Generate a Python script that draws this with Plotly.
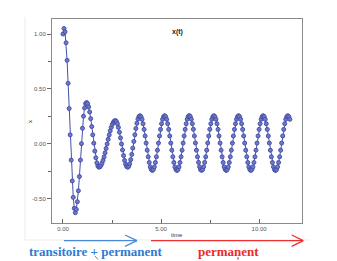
import plotly.graph_objects as go

# ---------------- data ----------------
dt = 0.05236  # sampling step of the simulation (time units)

x_values = [
    # transient part
    1.00, 1.05, 1.02, 0.92, 0.76, 0.55, 0.32, 0.08, -0.15, -0.34,
    -0.49, -0.59, -0.63, -0.60, -0.53, -0.43, -0.30, -0.15, 0.00, 0.14,
    0.25, 0.325, 0.365, 0.375, 0.365, 0.335, 0.289, 0.228, 0.156, 0.080,
    0.004, -0.068, -0.129, -0.175, -0.205, -0.215, -0.211, -0.199, -0.179, -0.153,
    -0.121, -0.084, -0.044, -0.003, 0.039, 0.079, 0.116, 0.148, 0.174, 0.194,
    0.206, 0.210, 0.203, 0.182, 0.148, 0.104, 0.053, -0.003, -0.058, -0.109,
    -0.153, -0.187, -0.208, -0.215, -0.207, -0.184, -0.146, -0.098, -0.041, 0.020,
    0.081, 0.138, 0.186, 0.224, 0.247, 0.255,
    # steady state
    0.246, 0.222, 0.182, 0.130, 0.070, 0.005, -0.060, -0.120, -0.172, -0.212,
    -0.236, -0.245, -0.236, -0.212, -0.172, -0.120, -0.060, 0.005, 0.070, 0.130,
    0.182, 0.222, 0.246, 0.255, 0.246, 0.222, 0.182, 0.130, 0.070, 0.005,
    -0.060, -0.120, -0.172, -0.212, -0.236, -0.245, -0.236, -0.212, -0.172, -0.120,
    -0.060, 0.005, 0.070, 0.130,
    0.182, 0.223, 0.247, 0.256, 0.247, 0.223, 0.182, 0.131, 0.070, 0.006,
    -0.060, -0.120, -0.171, -0.211, -0.236, -0.244, -0.236, -0.211, -0.171, -0.120,
    -0.060, 0.006, 0.070, 0.131,
    0.182, 0.222, 0.246, 0.255, 0.246, 0.222, 0.182, 0.130, 0.070, 0.005,
    -0.060, -0.120, -0.172, -0.212, -0.236, -0.245, -0.236, -0.212, -0.172, -0.120,
    -0.060, 0.005, 0.070, 0.130,
    0.182, 0.222, 0.246, 0.255, 0.246, 0.222, 0.182, 0.130, 0.070, 0.005,
    -0.060, -0.120, -0.172, -0.212, -0.236, -0.245, -0.236, -0.212, -0.172, -0.120,
    -0.060, 0.005, 0.070, 0.130,
    0.182, 0.222, 0.246, 0.255, 0.246, 0.222, 0.182, 0.130, 0.070, 0.005,
    -0.060, -0.120, -0.172, -0.212, -0.236, -0.245, -0.236, -0.212, -0.172, -0.120,
    -0.060, 0.005, 0.070, 0.130,
    0.182, 0.222, 0.246, 0.255, 0.246, 0.222,
]
time_values = [i * dt for i in range(len(x_values))]

x_ticks = [0, 5, 10]
x_tick_labels = ["0.00", "5.00", "10.00"]
y_ticks = [-0.5, 0.0, 0.5, 1.0]
y_tick_labels = ["-0.50", "0.00", "0.50", "1.00"]

chart_title = "x(t)"
x_title = "time"
y_title = "x"
label_left = "transitoire + permanent"
label_right = "permanent"

# ---------------- layout helpers ----------------
W, H = 337, 261
L, R, T, B = 52, 302, 19, 223


def px(xp):
    return (xp - L) / (R - L)


def py(yp):
    return (B - yp) / (B - T)


LINE_COL = "#4650ab"
FILL_COL = "#6e7ac8"

fig = go.Figure()
fig.add_trace(go.Scatter(
    x=time_values, y=x_values, mode="lines+markers",
    line=dict(color=LINE_COL, width=1),
    marker=dict(size=4, color=FILL_COL, line=dict(color=LINE_COL, width=1)),
    showlegend=False, hoverinfo="skip",
))

axis_common = dict(
    showgrid=False, zeroline=False, showline=True, mirror=True,
    linecolor="#8a8a8a", linewidth=1,
    tickfont=dict(family="Liberation Sans, Arial", size=6, color="#555555"),
    tickcolor="#666666", ticklen=4, tickwidth=1,
)

fig.update_xaxes(
    range=[-0.56, 12.19], tickvals=x_ticks, ticktext=x_tick_labels,
    ticks="inside",
    minor=dict(tickvals=[2.5, 7.5], ticks="inside", ticklen=3, tickcolor="#666666"),
    **axis_common,
)
fig.update_yaxes(
    range=[-0.724, 1.137], tickvals=y_ticks, ticktext=y_tick_labels,
    ticks="outside",
    minor=dict(tickvals=[-0.25, 0.25, 0.75], ticks="outside", ticklen=3, tickcolor="#666666"),
    **axis_common,
)


def note(xp, yp, text, font, angle=0):
    return dict(x=px(xp), y=py(yp), xref="paper", yref="paper", text=text,
                showarrow=False, xanchor="center", yanchor="middle",
                textangle=angle, font=font)


annotations = [
    note(177, 31.5, "<b>" + chart_title + "</b>",
         dict(family="Liberation Sans, Arial", size=7, color="#222222")),
    note(177, 235, x_title, dict(family="Liberation Sans, Arial", size=6, color="#333333")),
    note(30, 122, y_title, dict(family="Liberation Sans, Arial", size=6, color="#333333"), -90),
    note(95, 251.5, "<b>" + label_left + "</b>",
         dict(family="Liberation Serif, serif", size=13, color="#2f7bd0")),
    note(228, 251.5, "<b>" + label_right + "</b>",
         dict(family="Liberation Serif, serif", size=13, color="#ec2a2a")),
]

BLUE = "#4a8ad8"
RED = "#ee3030"
shapes = []


def seg(x0, y0, x1, y1, color, width=1.3):
    shapes.append(dict(type="line", xref="paper", yref="paper",
                       x0=px(x0), y0=py(y0), x1=px(x1), y1=py(y1),
                       line=dict(color=color, width=width)))


# faint border of the pasted image
seg(25, 17, 25, 240, "#ebebe3", 1)
seg(25, 240, 310, 240, "#ebebe3", 1)
# blue arrow
seg(64, 240.7, 137, 240.7, BLUE)
seg(137, 240.7, 125, 235, BLUE)
seg(137, 240.7, 125, 246.3, BLUE)
# red arrow
seg(151, 240.7, 303, 240.7, RED)
seg(303.3, 240.7, 291.7, 235, RED)
seg(303.3, 240.7, 291.7, 246.3, RED)
# small marks under the texts
seg(95, 256, 98, 259.5, BLUE, 1)
seg(238, 257, 238, 260, RED, 1)

fig.update_layout(
    width=W, height=H,
    margin=dict(l=L, r=W - R, t=T, b=H - B),
    paper_bgcolor="white", plot_bgcolor="white",
    annotations=annotations, shapes=shapes,
)

fig.write_html("out.html")
